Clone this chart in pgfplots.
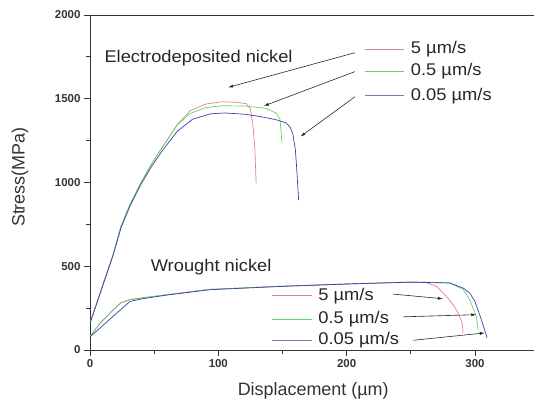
\documentclass[border=0pt]{standalone}
\usepackage{fontspec}
\setmainfont{Liberation Sans}
\newfontfamily\annot[FakeStretch=1.08]{Liberation Sans}
\usepackage{pgfplots}
\pgfplotsset{compat=1.18}
\usetikzlibrary{arrows.meta}
\definecolor{cred}{HTML}{E0808A}
\definecolor{cgreen}{HTML}{5ED65E}
\definecolor{cblue}{HTML}{3C3CB4}
\definecolor{axgray}{HTML}{333333}
\begin{document}
\begin{tikzpicture}
\useasboundingbox (-90bp,-49bp) rectangle (444bp,350bp);
\begin{axis}[
  scale only axis,
  width=449.1bp, height=335bp,
  xmin=0, xmax=350, ymin=0, ymax=2000,
  xtick={0,100,200,300}, ytick={0,500,1000,1500,2000},
  minor x tick num=1, minor y tick num=1,
  tick pos=left, tick align=outside,
  major tick length=6bp, minor tick length=3.5bp,
  every tick/.style={axgray, line width=0.8pt},
  axis line style={axgray, line width=0.9pt},
  /pgf/number format/assume math mode=true,
  /pgf/number format/1000 sep={},
  ticklabel style={font=\bfseries\fontsize{11.5}{13}\selectfont, text=axgray},
  xlabel={Displacement (µm)},
  ylabel={Stress(MPa)},
  label style={font=\fontsize{18}{21}\selectfont, text=axgray},
  xlabel style={at={(axis description cs:0.497,0)}, anchor=north, inner sep=0pt, yshift=-32bp},
  ylabel style={at={(axis description cs:0,0.516)}, anchor=center, yshift=70bp},
  clip=false,
]
% Electrodeposited nickel
\addplot[cred, line width=0.7pt] coordinates {(0,160)(5,275)(10,390)(18,570)(24.2,740)(31.5,875)(39.8,1000)(47.5,1105)(55.9,1205)(67.9,1345)(78,1428)(90,1468)(103,1482)(115,1478)(122,1470)(125,1440)(127,1340)(128.5,1200)(129.5,995)};
\addplot[cgreen, line width=0.7pt] coordinates {(0,160)(5,275)(10,390)(18,570)(24.2,740)(31.5,875)(39.8,1000)(47.5,1105)(55.9,1205)(67.9,1342)(78,1412)(90,1447)(103,1458)(120,1457)(137,1443)(145,1415)(148,1380)(149,1300)(149.6,1234)};
\addplot[cblue, line width=0.7pt] coordinates {(0,160)(5,272)(10,385)(18,565)(24.2,730)(31.5,865)(39.8,990)(47.5,1090)(55.9,1185)(67.9,1305)(80,1378)(94,1410)(105,1415)(120,1408)(131.6,1395)(145,1375)(153,1355)(156,1330)(158,1293)(160,1200)(161,1095)(162.6,895)};
% Wrought nickel
\addplot[cred, line width=0.7pt] coordinates {(0,80)(8,160)(17,230)(24,280)(31,300)(45,315)(60,330)(93.5,362)(150,381)(200,394)(245,405)(261,405)(270,380)(277.8,320)(283,270)(287,221)(290,160)(290.8,102)};
\addplot[cgreen, line width=0.7pt] coordinates {(0,80)(8,163)(17,233)(24,283)(31,302)(45,316)(60,330)(93.5,362)(150,381)(200,394)(250,406)(280,402)(290.8,362)(296,300)(301,201)(302.5,122)};
\addplot[cblue, line width=0.7pt] coordinates {(0,78)(10,146)(20,215)(31.2,290)(40,305)(60,328)(93.5,360)(150,380)(200,394)(250,405)(280.5,400)(290.8,370)(296,340)(300,290)(305,181)(308,110)(309.5,72)};
% legend samples (upper)
\addplot[cred, line width=0.6pt] coordinates {(214,1797)(245,1797)};
\addplot[cgreen, line width=0.6pt] coordinates {(214,1662)(245,1662)};
\addplot[cblue!70, line width=0.6pt] coordinates {(214,1518)(245,1518)};
% legend samples (lower)
\addplot[cred, line width=0.6pt] coordinates {(141.6,324)(172.7,324)};
\addplot[cgreen, line width=0.6pt] coordinates {(141.6,185)(172.7,185)};
\addplot[cblue!70, line width=0.6pt] coordinates {(141.6,60)(172.7,60)};
% texts
\node[font=\annot\fontsize{17}{20}\selectfont, text=black!85] at (axis cs:84.6,1741) {Electrodeposited nickel};
\node[font=\annot\fontsize{17}{20}\selectfont, text=black!85] at (axis cs:94.4,497) {Wrought nickel};
\node[font=\annot\fontsize{17}{20}\selectfont, anchor=west, inner sep=0pt, text=black!85] at (axis cs:250,1797) {5 µm/s};
\node[font=\annot\fontsize{17}{20}\selectfont, anchor=west, inner sep=0pt, text=black!85] at (axis cs:250,1662) {0.5 µm/s};
\node[font=\annot\fontsize{17}{20}\selectfont, anchor=west, inner sep=0pt, text=black!85] at (axis cs:250,1518) {0.05 µm/s};
\node[font=\annot\fontsize{17}{20}\selectfont, anchor=west, inner sep=0pt, text=black!85] at (axis cs:177.9,324) {5 µm/s};
\node[font=\annot\fontsize{17}{20}\selectfont, anchor=west, inner sep=0pt, text=black!85] at (axis cs:177.9,185) {0.5 µm/s};
\node[font=\annot\fontsize{17}{20}\selectfont, anchor=west, inner sep=0pt, text=black!85] at (axis cs:177.9,60) {0.05 µm/s};
% arrows
\draw[-{Latex[length=5pt,width=3pt]}, black!85, line width=0.6pt] (axis cs:206.5,1775) -- (axis cs:107.7,1568);
\draw[-{Latex[length=5pt,width=3pt]}, black!85, line width=0.6pt] (axis cs:206.5,1662) -- (axis cs:135.5,1457);
\draw[-{Latex[length=5pt,width=3pt]}, black!85, line width=0.6pt] (axis cs:206.5,1512) -- (axis cs:164,1274);
\draw[-{Latex[length=5pt,width=3pt]}, black!85, line width=0.6pt] (axis cs:236,334) -- (axis cs:275,306);
\draw[-{Latex[length=5pt,width=3pt]}, black!85, line width=0.6pt] (axis cs:244,198) -- (axis cs:301,211);
\draw[-{Latex[length=5pt,width=3pt]}, black!85, line width=0.6pt] (axis cs:252,58) -- (axis cs:307.7,102);
\end{axis}
\end{tikzpicture}
\end{document}
